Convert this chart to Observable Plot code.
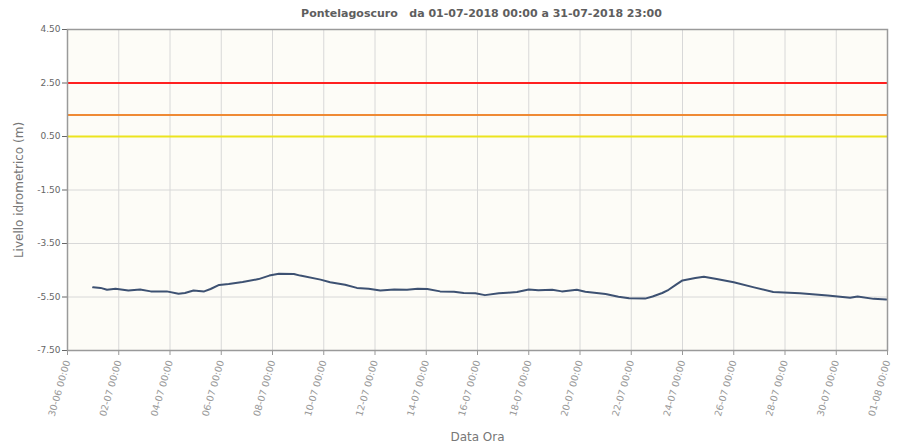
<!DOCTYPE html>
<html>
<head>
<meta charset="utf-8">
<script src="https://cdn.jsdelivr.net/npm/d3@7"></script>
<script src="https://cdn.jsdelivr.net/npm/@observablehq/plot@0.6"></script>
<style>
  body { margin: 0; background: #fff; font-family: "DejaVu Sans", Verdana, sans-serif; }
  #title { height: 18px; line-height: 18px; padding-top: 5px; padding-left: 62px; text-align: center;
           font-size: 11px; font-weight: bold; color: #5e5e5e; white-space: pre; }
  #chart svg { display: block; overflow: visible; }
</style>
</head>
<body>
<div id="title">Pontelagoscuro   da 01-07-2018 00:00 a 31-07-2018 23:00</div>
<div id="chart"></div>
<script>
// Hourly river level readings (sampled), UTC timestamps
const times = [
  "2018-07-01T00:00","2018-07-01T07:00","2018-07-01T13:00","2018-07-01T21:00","2018-07-02T09:00",
  "2018-07-02T20:00","2018-07-03T06:00","2018-07-03T21:00","2018-07-04T08:00","2018-07-04T14:00",
  "2018-07-04T22:00","2018-07-05T08:00","2018-07-05T14:00","2018-07-05T22:00","2018-07-06T07:00",
  "2018-07-06T20:00","2018-07-07T11:00","2018-07-07T21:00","2018-07-08T06:00","2018-07-08T20:00",
  "2018-07-09T02:00","2018-07-09T21:00","2018-07-10T06:00","2018-07-10T20:00","2018-07-11T07:00",
  "2018-07-11T18:00","2018-07-12T05:00","2018-07-12T18:00","2018-07-13T06:00","2018-07-13T16:00",
  "2018-07-14T01:00","2018-07-14T13:00","2018-07-15T02:00","2018-07-15T11:00","2018-07-15T22:00",
  "2018-07-16T07:00","2018-07-16T20:00","2018-07-17T04:00","2018-07-17T13:00","2018-07-18T00:00",
  "2018-07-18T09:00","2018-07-18T22:00","2018-07-19T07:00","2018-07-19T21:00","2018-07-20T05:00",
  "2018-07-21T00:00","2018-07-21T12:00","2018-07-21T22:00","2018-07-22T13:00","2018-07-22T20:00",
  "2018-07-23T05:00","2018-07-23T11:00","2018-07-23T18:00","2018-07-24T00:00","2018-07-24T12:00",
  "2018-07-24T20:00","2018-07-25T08:00","2018-07-26T00:00","2018-07-26T19:00","2018-07-27T13:00",
  "2018-07-28T14:00","2018-07-29T16:00","2018-07-30T13:00","2018-07-30T20:00","2018-07-31T11:00",
  "2018-07-31T23:00"
];
const levels = [
  -5.14,-5.16,-5.23,-5.19,-5.26,
  -5.22,-5.29,-5.29,-5.38,-5.35,
  -5.26,-5.29,-5.20,-5.05,-5.01,
  -4.94,-4.83,-4.70,-4.63,-4.64,
  -4.70,-4.85,-4.95,-5.04,-5.16,
  -5.19,-5.26,-5.22,-5.23,-5.19,
  -5.20,-5.29,-5.30,-5.35,-5.36,
  -5.43,-5.36,-5.34,-5.31,-5.22,
  -5.25,-5.23,-5.29,-5.23,-5.30,
  -5.39,-5.49,-5.55,-5.56,-5.48,
  -5.35,-5.23,-5.04,-4.88,-4.79,
  -4.74,-4.83,-4.95,-5.14,-5.31,
  -5.36,-5.44,-5.53,-5.48,-5.57,
  -5.59
];
// Alert thresholds
const thresholdLevels = [2.5, 1.3, 0.5];
const thresholdColors = ["#ff2020", "#ef8a35", "#ece41e"];
// Axis ticks
const yTicks = [4.5, 2.5, 0.5, -1.5, -3.5, -5.5, -7.5];
const xTickDates = [
  "2018-06-30","2018-07-02","2018-07-04","2018-07-06","2018-07-08","2018-07-10",
  "2018-07-12","2018-07-14","2018-07-16","2018-07-18","2018-07-20","2018-07-22",
  "2018-07-24","2018-07-26","2018-07-28","2018-07-30","2018-08-01"
];

const data = times.map((t, i) => ({ t: new Date(t + "Z"), v: levels[i] }));
const xTicks = xTickDates.map(d => new Date(d + "T00:00Z"));

const chart = Plot.plot({
  width: 901,
  height: 425,
  marginTop: 6,
  marginLeft: 67,
  marginRight: 14,
  marginBottom: 98,
  style: { fontFamily: "'DejaVu Sans', Verdana, sans-serif", fontSize: "9px", color: "#666", background: "transparent", overflow: "visible" },
  x: { type: "utc", domain: [xTicks[0], xTicks[xTicks.length - 1]] },
  y: { domain: [-7.5, 4.5] },
  marks: [
    Plot.frame({ fill: "#fdfcf7" }),
    Plot.gridX({ ticks: xTicks, stroke: "#d8d8d8", strokeOpacity: 1 }),
    Plot.gridY({ ticks: yTicks, stroke: "#d8d8d8", strokeOpacity: 1 }),
    ...thresholdLevels.map((v, i) => Plot.ruleY([v], { stroke: thresholdColors[i], strokeWidth: 2 })),
    Plot.lineY(data, { x: "t", y: "v", stroke: "#3d5172", strokeWidth: 2 }),
    Plot.axisY({
      ticks: yTicks, tickFormat: d => d.toFixed(2), tickSize: 5, tickPadding: 2,
      label: null
    }),
    Plot.axisY({
      ticks: [], tickSize: 0, fontSize: "12px", color: "#777",
      label: "Livello idrometrico (m)", labelAnchor: "center", labelArrow: "none", labelOffset: 53
    }),
    Plot.axisX({
      ticks: xTicks, tickFormat: "%d-%m %H:%M", tickRotate: -74, tickSize: 5, tickPadding: 5,
      fontSize: "9.5px", color: "#999", label: null
    }),
    Plot.axisX({
      ticks: [], tickSize: 0, fontSize: "12px", color: "#777",
      label: "Data Ora", labelAnchor: "center", labelArrow: "none", labelOffset: 90
    }),
    Plot.frame({ stroke: "#9a9a9a", strokeWidth: 1.5 })
  ]
});
document.getElementById("chart").appendChild(chart);
</script>
</body>
</html>
